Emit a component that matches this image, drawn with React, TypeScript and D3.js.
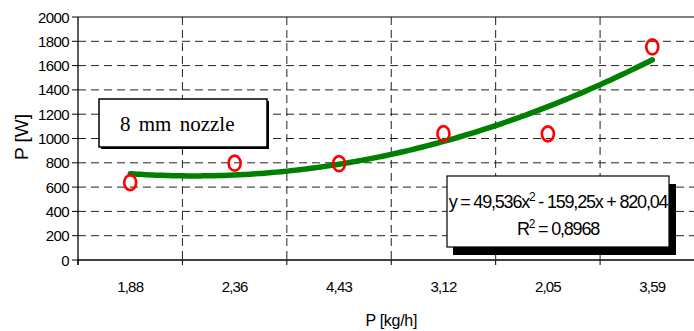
import React from "react";
import * as d3 from "d3";

const categories = ["1,88", "2,36", "4,43", "3,12", "2,05", "3,59"];
const powerValues = [637, 797, 793, 1040, 1038, 1754];
const yTicks = [0, 200, 400, 600, 800, 1000, 1200, 1400, 1600, 1800, 2000];
const trendCoeffs = [49.536, -159.25, 820.04];
const eqLine1 = "y = 49,536x";
const eqLine1b = " - 159,25x + 820,04";
const eqLine2 = "R";
const eqLine2b = " = 0,8968";
const boxLabel = "8 mm nozzle";

const W = 694;
const H = 331;
const left = 78;
const right = 704.5;
const top = 17;
const bottom = 260;

export default function App() {
  const x = d3.scaleBand<string>().domain(categories).range([left, right]).padding(0);
  const y = d3.scaleLinear().domain([0, 2000]).range([bottom, top]);
  const bw = x.bandwidth();
  const center = (i: number) => (x(categories[i]) as number) + bw / 2;

  const xIdx = d3.scaleLinear().domain([1, categories.length]).range([center(0), center(categories.length - 1)]);
  const trendPts: [number, number][] = d3.range(1, categories.length + 0.001, 0.05).map((t) => {
    const v = trendCoeffs[0] * t * t + trendCoeffs[1] * t + trendCoeffs[2];
    return [xIdx(t), y(v)];
  });
  const line = d3.line<[number, number]>().curve(d3.curveMonotoneX);

  const boundaries = d3.range(0, categories.length + 1).map((i) => left + i * bw);

  const font = "'Liberation Sans', Arial, sans-serif";

  return (
    <svg width={W} height={H} style={{ position: "absolute", left: 0, top: 0, background: "#fff" }}>
      <rect x={0} y={0} width={W} height={H} fill="#fff" />
      {yTicks.filter((t) => t > 0 && t < 2000).map((t) => (
        <line key={"h" + t} x1={left} x2={W} y1={y(t)} y2={y(t)} stroke="#222" strokeWidth={1} strokeDasharray="8,5" />
      ))}
      {boundaries.slice(1).map((b, i) => (
        <line key={"v" + i} x1={b} x2={b} y1={top} y2={bottom} stroke="#222" strokeWidth={1} strokeDasharray="8,5" />
      ))}
      <line x1={left} x2={W} y1={top} y2={top} stroke="#000" strokeWidth={1.2} />
      <line x1={left} x2={left} y1={top} y2={bottom + 5} stroke="#000" strokeWidth={1.3} />
      <line x1={left} x2={W} y1={bottom} y2={bottom} stroke="#000" strokeWidth={1.3} />
      {yTicks.map((t) => (
        <g key={"yt" + t}>
          <line x1={left - 6} x2={left} y1={y(t)} y2={y(t)} stroke="#000" strokeWidth={1} />
          <text x={69} y={y(t) + 5.5} textAnchor="end" fontFamily={font} fontSize={15} letterSpacing={-0.6} fill="#000">
            {t}
          </text>
        </g>
      ))}
      {boundaries.map((b, i) => (
        <line key={"xt" + i} x1={b} x2={b} y1={bottom} y2={bottom + 5} stroke="#000" strokeWidth={1} />
      ))}
      {categories.map((c, i) => (
        <text key={c} x={center(i)} y={292} textAnchor="middle" fontFamily={font} fontSize={15} letterSpacing={-0.8} fill="#000">
          {c}
        </text>
      ))}
      <text x={(left + right) / 2} y={326} textAnchor="middle" fontFamily={font} fontSize={16} letterSpacing={-0.3} fill="#000">
        P [kg/h]
      </text>
      <text transform={`translate(28,137) rotate(-90)`} textAnchor="middle" fontFamily={font} fontSize={19} fill="#000">
        P [W]
      </text>

      <rect x={101} y={101} width={168} height={48} fill="#000" />
      <rect x={99} y={99} width={168} height={48} fill="#fff" stroke="#000" strokeWidth={1.5} />
      <text x={120} y={131} fontFamily="'Liberation Serif', 'Times New Roman', serif" fontSize={21} wordSpacing={3} fill="#000">
        {boxLabel}
      </text>

      <path d={line(trendPts) || ""} fill="none" stroke="#008000" strokeWidth={5.5} strokeLinecap="round" />

      {powerValues.map((v, i) => (
        <ellipse key={"p" + i} cx={center(i)} cy={y(v)} rx={6} ry={7.5} fill="none" stroke="#ff0000" strokeWidth={2.6} />
      ))}

      <rect x={453} y={184} width={223} height={71} fill="#000" />
      <rect x={447} y={176} width={222} height={71} fill="#fff" stroke="#000" strokeWidth={1.2} />
      <text x={558} y={208} textAnchor="middle" fontFamily={font} fontSize={18} letterSpacing={-1.2} fill="#000">
        {eqLine1}
        <tspan dy={-7} fontSize={12}>2</tspan>
        <tspan dy={7}>{eqLine1b}</tspan>
      </text>
      <text x={558} y={235} textAnchor="middle" fontFamily={font} fontSize={18} letterSpacing={-1.2} fill="#000">
        {eqLine2}
        <tspan dy={-7} fontSize={12}>2</tspan>
        <tspan dy={7}>{eqLine2b}</tspan>
      </text>
    </svg>
  );
}
